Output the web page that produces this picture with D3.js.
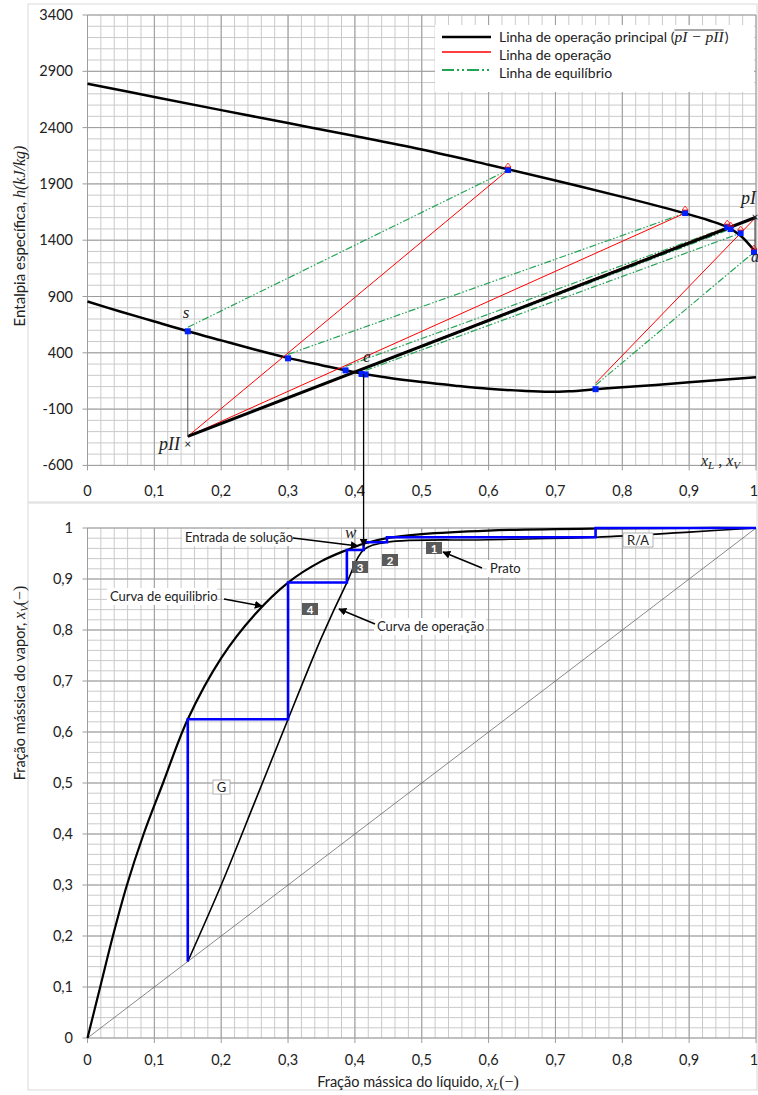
<!DOCTYPE html>
<html><head><meta charset="utf-8">
<script src="https://cdn.jsdelivr.net/npm/d3@7"></script>
<style>body{margin:0;background:#fff}svg{display:block}</style>
</head><body>
<svg id="c" width="758" height="1095"></svg>
<script>
// ---------- DATA ----------
const xTickVals = [0,0.1,0.2,0.3,0.4,0.5,0.6,0.7,0.8,0.9,1];
const xTickLabels = ['0','0,1','0,2','0,3','0,4','0,5','0,6','0,7','0,8','0,9','1'];
const hTickVals = [-600,-100,400,900,1400,1900,2400,2900,3400];
const yTickVals = [0,0.1,0.2,0.3,0.4,0.5,0.6,0.7,0.8,0.9,1];
const yTickLabels = ['0','0,1','0,2','0,3','0,4','0,5','0,6','0,7','0,8','0,9','1'];

// Ponchon-Savarit (top)
const vaporX = [0,0.1,0.2,0.3,0.4,0.5,0.6,0.7,0.8,0.89,0.93,0.957,0.977,1.0];
const vaporH = [2790,2672,2555,2440,2325,2205,2070,1930,1785,1645,1575,1516,1440,1290];
const liquidX = [0,0.05,0.1,0.15,0.2,0.25,0.3,0.35,0.4,0.45,0.5,0.55,0.6,0.65,0.69,0.72,0.76,0.8,0.85,0.9,0.95,1.0];
const liquidH = [855,765,678,591,510,430,355,290,228,178,140,108,80,62,53,58,76,95,115,138,160,183];
const pI = [1.0,1604];
const pII = [0.15,-342];
const pIIMark = [0.15,-408];
const liqPtX = [0.15,0.3,0.386,0.41,0.416,0.76];
const liqPtH = [591,351,244,212,208,77];
const vapPtX = [0.629,0.894,0.957,0.962,0.977,0.997];
const vapPtH = [2023,1641,1516,1499,1463,1294];
// equilibrium tie lines: liquid index -> vapour index
const eqFrom = [0,1,2,3,4,5];
const eqTo   = [0,1,2,3,4,5];
// operating lines through pII to vapour points
const opPIIto = [0,1,2];
// operating line from liquid to pI
const opPIfromX = [0.76];
const opPIfromH = [130];

// McCabe-Thiele (bottom)
const eqX = [0,0.019,0.038,0.059,0.084,0.113,0.15,0.2,0.25,0.3,0.35,0.388,0.413,0.448,0.5,0.6,0.76,0.9,1];
const eqY = [0,0.1,0.2,0.3,0.4,0.5,0.625,0.745,0.83,0.893,0.935,0.957,0.969,0.98,0.988,0.995,0.999,1.0,1.0];
const opX = [0.15,0.2,0.25,0.3,0.35,0.388,0.413,0.448,0.6,0.76,0.9,1.0];
const opY = [0.15,0.30,0.462,0.625,0.785,0.893,0.957,0.972,0.977,0.982,0.992,1.0];
const stairX = [1.0,0.76,0.76,0.448,0.448,0.413,0.413,0.388,0.388,0.3,0.3,0.15,0.15];
const stairY = [1.0,1.0,0.982,0.982,0.972,0.972,0.957,0.957,0.893,0.893,0.625,0.625,0.15];
const feedX = 0.413;
const feedH = 210;

// ---------- DRAW ----------
const svg = d3.select('#c');
const SANS = 'Lato, "Open Sans", sans-serif';
const SERIF = '"Liberation Serif", "DejaVu Serif", serif';
const X0 = 87.5, X1 = 756;
const xT = d3.scaleLinear().domain([0,1]).range([X0,X1]);
const yT = d3.scaleLinear().domain([-600,3400]).range([465.4,15]);
const xB = d3.scaleLinear().domain([0,1]).range([X0,X1]);
const yB = d3.scaleLinear().domain([0,1]).range([1038,528]);
const smooth = d3.curveCatmullRom.alpha(0.5);

const defs = svg.append('defs');
defs.append('marker').attr('id','ah').attr('viewBox','0 0 10 10').attr('refX',9).attr('refY',5)
  .attr('markerWidth',8).attr('markerHeight',8).attr('markerUnits','userSpaceOnUse').attr('orient','auto')
  .append('path').attr('d','M0,0 L10,5 L0,10 z').attr('fill','#000');

// frames
svg.append('rect').attr('x',28).attr('y',4).attr('width',729).attr('height',498).attr('fill','none').attr('stroke','#d9d9d9');
svg.append('rect').attr('x',28).attr('y',503).attr('width',729).attr('height',587).attr('fill','none').attr('stroke','#d9d9d9');

function drawGrid(g, xs, ys, xMinorStep, yMinorVals, yMajorVals) {
  const [ya, yb] = [ys.range()[0], ys.range()[1]];
  const minorX = d3.range(0, 1.0001, xMinorStep);
  g.selectAll('.mx').data(minorX).enter().append('line')
    .attr('x1', d=>xs(d)).attr('x2', d=>xs(d)).attr('y1', ya).attr('y2', yb)
    .attr('stroke','#cacaca').attr('stroke-width',1);
  g.selectAll('.my').data(yMinorVals).enter().append('line')
    .attr('x1', X0).attr('x2', X1).attr('y1', d=>ys(d)).attr('y2', d=>ys(d))
    .attr('stroke','#cacaca').attr('stroke-width',1);
  g.selectAll('.Mx').data(xTickVals).enter().append('line')
    .attr('x1', d=>xs(d)).attr('x2', d=>xs(d)).attr('y1', ya+5).attr('y2', yb)
    .attr('stroke','#9c9c9c').attr('stroke-width',1);
  g.selectAll('.My').data(yMajorVals).enter().append('line')
    .attr('x1', X0-5).attr('x2', X1).attr('y1', d=>ys(d)).attr('y2', d=>ys(d))
    .attr('stroke','#9c9c9c').attr('stroke-width',1);
}
const xLabelPos = (d)=> d===1 ? xT(d)-2 : xT(d);

// ===== TOP CHART =====
const gT = svg.append('g');
drawGrid(gT, xT, yT, 0.02, d3.range(-600,3401,100), hTickVals);

gT.selectAll('.yl').data(hTickVals).enter().append('text')
  .attr('x',73).attr('y',d=>yT(d)+5).attr('text-anchor','end')
  .attr('font-family',SANS).attr('font-size',14.5).attr('fill','#222').text(d=>d);
gT.selectAll('.xl').data(xTickVals).enter().append('text')
  .attr('x',d=>xLabelPos(d)).attr('y',496).attr('text-anchor','middle')
  .attr('font-family',SANS).attr('font-size',14.5).attr('fill','#222').text((d,i)=>xTickLabels[i]);

const tyt = gT.append('text').attr('transform','translate(25,236) rotate(-90)').attr('text-anchor','middle')
  .attr('font-family',SANS).attr('font-size',15).attr('fill','#222');
tyt.append('tspan').text('Entalpia específica, ');
tyt.append('tspan').attr('font-family',SERIF).attr('font-style','italic').attr('font-size',16).text('h(kJ/kg)');

// legend box
gT.append('rect').attr('x',435).attr('y',25).attr('width',319).attr('height',67).attr('fill','#fff');

const lineT = d3.line().x(d=>xT(d[0])).y(d=>yT(d[1])).curve(smooth);
gT.append('path').attr('d', lineT(vaporX.map((x,i)=>[x,vaporH[i]]))).attr('fill','none').attr('stroke','#000').attr('stroke-width',2.5);
gT.append('path').attr('d', lineT(liquidX.map((x,i)=>[x,liquidH[i]]))).attr('fill','none').attr('stroke','#000').attr('stroke-width',2.5);

const GREEN = '#23a455';
eqFrom.forEach((li,k)=>{
  const vi = eqTo[k];
  gT.append('line').attr('x1',xT(liqPtX[li])).attr('y1',yT(liqPtH[li])-4)
    .attr('x2',xT(vapPtX[vi])).attr('y2',yT(vapPtH[vi]))
    .attr('stroke',GREEN).attr('stroke-width',1.2).attr('stroke-dasharray','7,2,1.5,2,1.5,2');
});
opPIIto.forEach(vi=>{
  gT.append('line').attr('x1',xT(pII[0])).attr('y1',yT(pII[1]))
    .attr('x2',xT(vapPtX[vi])).attr('y2',yT(vapPtH[vi]))
    .attr('stroke','#ff0000').attr('stroke-width',1);
});
opPIfromX.forEach((x,i)=>{
  gT.append('line').attr('x1',xT(x)).attr('y1',yT(opPIfromH[i]))
    .attr('x2',xT(pI[0])).attr('y2',yT(pI[1]))
    .attr('stroke','#ff0000').attr('stroke-width',1);
});
gT.append('line').attr('x1',xT(pII[0])).attr('y1',yT(pII[1])).attr('x2',xT(pI[0])).attr('y2',yT(pI[1]))
  .attr('stroke','#000').attr('stroke-width',3);
gT.append('line').attr('x1',xT(pII[0])).attr('x2',xT(pII[0])).attr('y1',yT(liqPtH[0])).attr('y2',yT(pII[1]))
  .attr('stroke','#555').attr('stroke-width',1);
gT.append('line').attr('x1',xT(pI[0])-1).attr('x2',xT(pI[0])-1).attr('y1',yT(pI[1])).attr('y2',yT(vapPtH[5]))
  .attr('stroke','#333').attr('stroke-width',1);

const sq = 6;
gT.selectAll('.lp').data(liqPtX).enter().append('rect')
  .attr('x',(d,i)=>xT(d)-sq/2).attr('y',(d,i)=>yT(liqPtH[i])-sq/2).attr('width',sq).attr('height',sq).attr('fill','#0020ff');
gT.selectAll('.vp').data(vapPtX).enter().append('rect')
  .attr('x',(d,i)=>xT(d)-sq/2).attr('y',(d,i)=>yT(vapPtH[i])-sq/2).attr('width',sq).attr('height',sq).attr('fill','#0020ff');
gT.selectAll('.vt').data(vapPtX).enter().append('path')
  .attr('d',(d,i)=>{const x=xT(d), y=yT(vapPtH[i])-3; return `M${x-3},${y} L${x},${y-4} L${x+3},${y} Z`;})
  .attr('fill','none').attr('stroke','#ff0000').attr('stroke-width',0.8);

function mathText(g,x,y,txt,size,anchor){
  return g.append('text').attr('x',x).attr('y',y).attr('text-anchor',anchor||'start')
   .attr('font-family',SERIF).attr('font-style','italic').attr('font-size',size).attr('fill','#222').text(txt);
}
mathText(gT, xT(0.15)-5, 318, 's', 17);
mathText(gT, xT(0.415)-2, 362, 'e', 17);
mathText(gT, 180, 450, 'pII', 18, 'end');
mathText(gT, 741, 204, 'pI', 18);
mathText(gT, 751, 262, 'a', 16);
gT.append('text').attr('x',xT(pIIMark[0])).attr('y',yT(pIIMark[1])+4).attr('text-anchor','middle')
  .attr('font-family',SANS).attr('font-size',12).attr('fill','#222').text('×');
gT.append('text').attr('x',xT(pI[0])-1).attr('y',yT(pI[1])+4).attr('text-anchor','middle')
  .attr('font-family',SANS).attr('font-size',12).attr('fill','#222').text('×');
const xlab = gT.append('text').attr('x',701).attr('y',466).attr('font-family',SERIF).attr('font-style','italic').attr('font-size',16).attr('fill','#222');
xlab.append('tspan').text('x');
xlab.append('tspan').attr('font-size',11).attr('dy',3).text('L');
xlab.append('tspan').attr('dy',-3).text(' , x');
xlab.append('tspan').attr('font-size',11).attr('dy',3).text('V');

// legend
gT.append('line').attr('x1',442).attr('x2',491).attr('y1',37).attr('y2',37).attr('stroke','#000').attr('stroke-width',2.5);
gT.append('line').attr('x1',442).attr('x2',491).attr('y1',52).attr('y2',52).attr('stroke','#ff0000').attr('stroke-width',1.5);
gT.append('line').attr('x1',442).attr('x2',491).attr('y1',70).attr('y2',70).attr('stroke',GREEN).attr('stroke-width',2).attr('stroke-dasharray','12,3,2,3,2,3');
const lt1 = gT.append('text').attr('x',499).attr('y',42).attr('font-family',SANS).attr('font-size',14).attr('fill','#222').text('Linha de operação principal (');
const w1 = lt1.node().getComputedTextLength();
const lt2 = gT.append('text').attr('x',499+w1).attr('y',42).attr('font-family',SERIF).attr('font-style','italic').attr('font-size',15.5).attr('fill','#222').text('pI − pII');
const w2 = lt2.node().getComputedTextLength();
gT.append('line').attr('x1',499+w1).attr('x2',499+w1+w2).attr('y1',30).attr('y2',30).attr('stroke','#222').attr('stroke-width',0.8);
gT.append('text').attr('x',499+w1+w2+1).attr('y',42).attr('font-family',SANS).attr('font-size',14).attr('fill','#222').text(')');
gT.append('text').attr('x',499).attr('y',60).attr('font-family',SANS).attr('font-size',14).attr('fill','#222').text('Linha de operação');
gT.append('text').attr('x',499).attr('y',78).attr('font-family',SANS).attr('font-size',14).attr('fill','#222').text('Linha de equilíbrio');

// ===== BOTTOM CHART =====
const gB = svg.append('g');
drawGrid(gB, xB, yB, 0.02, d3.range(0,1.0001,0.02), yTickVals);
gB.selectAll('.yl').data(yTickVals).enter().append('text')
  .attr('x',73).attr('y',d=>yB(d)+5).attr('text-anchor','end')
  .attr('font-family',SANS).attr('font-size',14.5).attr('fill','#222').text((d,i)=>yTickLabels[i]);
gB.selectAll('.xl').data(xTickVals).enter().append('text')
  .attr('x',d=>xLabelPos(d)).attr('y',1065).attr('text-anchor','middle')
  .attr('font-family',SANS).attr('font-size',14.5).attr('fill','#222').text((d,i)=>xTickLabels[i]);
const bxt = gB.append('text').attr('x',418).attr('y',1087).attr('text-anchor','middle').attr('font-family',SANS).attr('font-size',14.5).attr('fill','#222');
bxt.append('tspan').text('Fração mássica do líquido, ');
bxt.append('tspan').attr('font-family',SERIF).attr('font-style','italic').attr('font-size',16).text('x');
bxt.append('tspan').attr('font-family',SERIF).attr('font-style','italic').attr('font-size',10.5).attr('dy',3).text('L');
bxt.append('tspan').attr('font-family',SERIF).attr('font-size',16).attr('dy',-3).text('(−)');
const byt = gB.append('text').attr('transform','translate(25,683) rotate(-90)').attr('text-anchor','middle').attr('font-family',SANS).attr('font-size',14.5).attr('fill','#222');
byt.append('tspan').text('Fração mássica do vapor, ');
byt.append('tspan').attr('font-family',SERIF).attr('font-style','italic').attr('font-size',16).text('x');
byt.append('tspan').attr('font-family',SERIF).attr('font-style','italic').attr('font-size',10.5).attr('dy',3).text('V');
byt.append('tspan').attr('font-family',SERIF).attr('font-size',16).attr('dy',-3).text('(−)');

gB.append('line').attr('x1',xB(0)).attr('y1',yB(0)).attr('x2',xB(1)).attr('y2',yB(1)).attr('stroke','#555').attr('stroke-width',0.7);
const lineB = d3.line().x(d=>xB(d[0])).y(d=>yB(d[1])).curve(smooth);
gB.append('path').attr('d', lineB(eqX.map((x,i)=>[x,eqY[i]]))).attr('fill','none').attr('stroke','#000').attr('stroke-width',2.2);
gB.append('path').attr('d', lineB(opX.map((x,i)=>[x,opY[i]]))).attr('fill','none').attr('stroke','#000').attr('stroke-width',1.6);
gB.append('path').attr('d', d3.line().x(d=>xB(d[0])).y(d=>yB(d[1]))(stairX.map((x,i)=>[x,stairY[i]])))
  .attr('fill','none').attr('stroke','#0000ff').attr('stroke-width',2.6);

svg.append('line').attr('x1',xT(feedX)).attr('x2',xT(feedX)).attr('y1',yT(feedH)).attr('y2',546)
  .attr('stroke','#000').attr('stroke-width',1.3).attr('marker-end','url(#ah)');
mathText(gB, 345, 538, 'w', 17);

function note(x,y,txt,w){
  gB.append('rect').attr('x',x-3).attr('y',y-13).attr('width',w).attr('height',17).attr('fill','#fff');
  gB.append('text').attr('x',x).attr('y',y).attr('font-family',SANS).attr('font-size',13).attr('fill','#222').text(txt);
}
function arrow(x1,y1,x2,y2){
  gB.append('line').attr('x1',x1).attr('y1',y1).attr('x2',x2).attr('y2',y2).attr('stroke','#000').attr('stroke-width',1.5).attr('marker-end','url(#ah)');
}
note(185,542,'Entrada de solução',108);
arrow(293,538,358,546);
note(490,573,'Prato',40);
arrow(482,568,443,552);
note(110,601,'Curva de equilibrio',110);
arrow(224,599,262,606);
note(377,631,'Curva de operação',112);
arrow(375,624,339,609);

function darkBox(x,y,txt){
  gB.append('rect').attr('x',x).attr('y',y).attr('width',16).attr('height',12).attr('fill','#5a5a5a');
  gB.append('text').attr('x',x+8).attr('y',y+10.5).attr('text-anchor','middle').attr('font-family',SANS).attr('font-weight','bold').attr('font-size',11.5).attr('fill','#fff').text(txt);
}
darkBox(426,542,'1');
darkBox(382,554,'2');
darkBox(352,561,'3');
darkBox(302,603,'4');
function whiteBox(x,y,w,txt){
  gB.append('rect').attr('x',x).attr('y',y).attr('width',w).attr('height',14).attr('fill','#fff').attr('stroke','#a0a0a0').attr('stroke-width',0.8);
  gB.append('text').attr('x',x+w/2).attr('y',y+11.5).attr('text-anchor','middle').attr('font-family',SANS).attr('font-size',13).attr('fill','#222').text(txt);
}
whiteBox(623,533,30,'R/A');
whiteBox(213,780,17,'G');
</script>
</body></html>
